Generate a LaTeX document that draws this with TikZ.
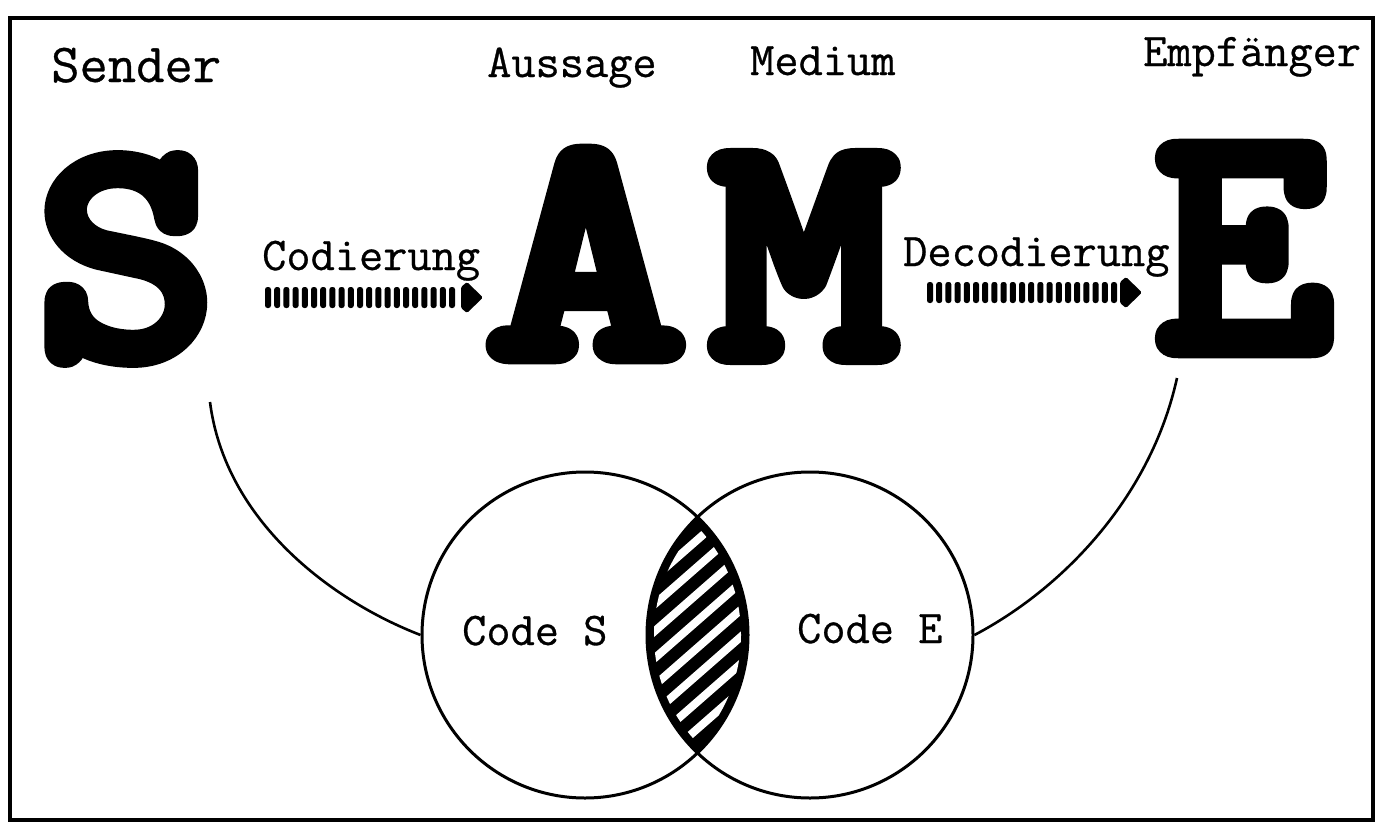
\documentclass[tikz,border=0pt]{standalone}
\usepackage{fontspec}
\usepackage{graphicx}
\newfontfamily\bigfont{Latin Modern Mono}[FakeBold=6]
\newfontfamily\lblfont{Latin Modern Mono}[FakeBold=0.6]
\newcommand{\bigletter}[3]{\scalebox{#1}[#2]{\resizebox{!}{222pt}{\pgfsetroundjoin\bigfont #3}}}
\begin{document}
\begin{tikzpicture}[x=1pt,y=-1pt,
  lbl/.style={inner sep=0pt, anchor=base west, font=\fontsize{47}{50}\selectfont\lblfont},
  bigl/.style={inner sep=0pt, anchor=center, line join=round},
  ring/.style={circle, draw, line width=3pt, minimum size=326pt, inner sep=0pt},
  link/.style={line width=2.6pt},
  bar/.style={fill=black, rounded corners=2.5pt}]
\useasboundingbox (0,0) rectangle (1378,822);
\fill[white] (0,0) rectangle (1378,822);
\draw[line width=3.5pt] (10,18) rectangle (1373,820);

% labels
\node[lbl, font=\fontsize{55}{58}\selectfont\lblfont] (lsender) at (51,82) {Sender};
\node[lbl] (laussage) at (487,77) {Aussage};
\node[lbl] (lmedium) at (750,75) {Medium};
\node[lbl] (lempf) at (1143,66) {Empfänger};
\node[lbl] (lcod) at (262,270) {Codierung};
\node[lbl] (ldecod) at (903,266) {Decodierung};

% big letters
\node[bigl] (S) at (126,259) {\bigletter{0.95}{0.88}{S}};
\node[bigl] (A) at (586,254) {\bigletter{1.06}{0.905}{A}};
\node[bigl] (M) at (804,256.5) {\bigletter{0.97}{0.89}{M}};
\node[bigl] (E) at (1244,248.5) {\bigletter{0.92}{0.90}{E}};

% dotted arrows
\foreach \i in {0,...,20} \fill[bar] ({265+9.2*\i},287) rectangle ++(6,21);
\fill[rounded corners=1.5pt] (461,287) -- (467,282) -- (483,297.5) -- (467,313) -- (461,308) -- cycle;
\foreach \i in {0,...,20} \fill[bar] ({927+9.2*\i},282) rectangle ++(6,21);
\fill[rounded corners=1.5pt] (1120,282) -- (1126,277) -- (1142,292.5) -- (1126,308) -- (1120,303) -- cycle;

% circles
\node[ring] (cS) at (585,635) {};
\node[ring] (cE) at (810,635) {};
\begin{scope}
  \clip (585,635) circle (163);
  \fill (810,635) circle (163);
\end{scope}
\begin{scope}
  \clip (585,635) circle (156);
  \clip (810,635) circle (156);
  \foreach \k in {-3,...,10}
    \draw[white, line width=8pt, line cap=round] (600,{625+27*\k}) -- ++(200,-175);
\end{scope}
\node[lbl] (tcs) at (462,645) {Code S};
\node[lbl] (tce) at (797,643) {Code E};

% connectors
\coordinate (sfoot) at (210,402);
\coordinate (efoot) at (1177,378);
\draw[link] (sfoot) .. controls (225,520) and (330,600) .. (cS.west);
\draw[link] (efoot) .. controls (1150,500) and (1060,590) .. (cE.east);
\end{tikzpicture}
\end{document}
